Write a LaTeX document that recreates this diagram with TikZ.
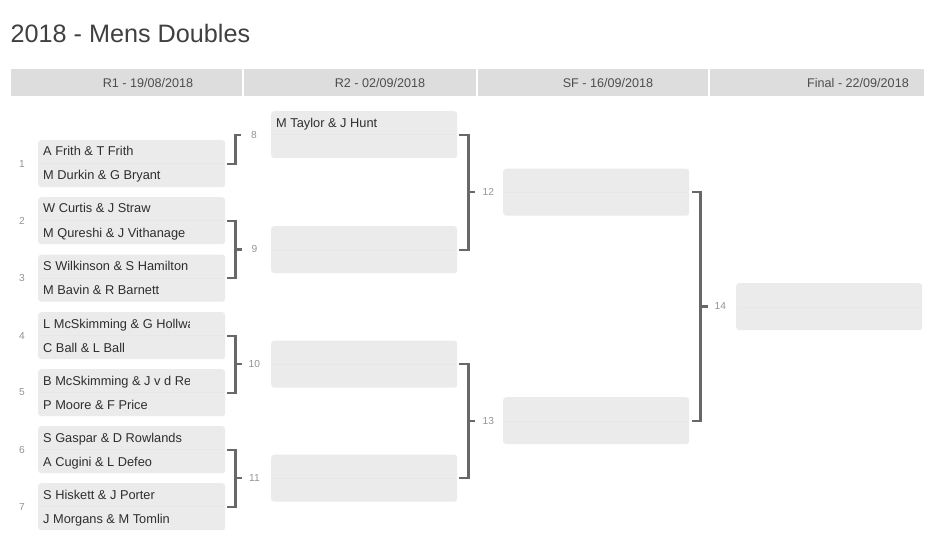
\documentclass[tikz,border=0pt]{standalone}
\usepackage{fontspec}
\setmainfont{Liberation Sans}
\usetikzlibrary{calc}
\definecolor{boxgray}{HTML}{EBEBEB}
\definecolor{rowline}{HTML}{E7E7E7}
\definecolor{hdrgray}{HTML}{DDDDDD}
\definecolor{linegray}{HTML}{686868}
\definecolor{lblgray}{HTML}{959595}
\definecolor{txtgray}{HTML}{2E2E2E}
\definecolor{titlegray}{HTML}{404040}
\begin{document}
\begin{tikzpicture}[x=1pt,y=-1pt,
  matchbox/.style={fill=boxgray, rounded corners=3pt, draw=none, inner sep=0pt, anchor=north west, minimum height=47pt},
  r1box/.style={matchbox, minimum width=187pt},
  r2box/.style={matchbox, minimum width=186pt},
  pname/.style={anchor=base west, inner sep=0pt, text=txtgray, font=\fontsize{12.8}{15}\selectfont},
  hdr/.style={inner sep=0pt, text=txtgray!85, font=\fontsize{12.6}{15}\selectfont},
  num/.style={inner sep=0pt, text=lblgray, font=\fontsize{10.2}{12}\selectfont},
  bracket/.style={draw=linegray, line width=2.2pt},
  blbl/.style={inner sep=0pt, text=lblgray, font=\fontsize{10.2}{12}\selectfont}
]
\useasboundingbox (0,0) rectangle (946,559);
\fill[white] (0,0) rectangle (946,559);

% title
\node[anchor=base west, inner sep=0pt, text=titlegray, font=\fontsize{25.2}{29}\selectfont] (title) at (10.5,43) {2018 - Mens Doubles};

% header bar
\fill[hdrgray] (11,69) rectangle (924,96);
\draw[white, line width=2pt] (242.5,69) -- (242.5,96) (476.5,69) -- (476.5,96) (708.5,69) -- (708.5,96);
\node[hdr] (h1) at (148,82.5) {R1 - 19/08/2018};
\node[hdr] (h2) at (380,82.5) {R2 - 02/09/2018};
\node[hdr] (h3) at (608,82.5) {SF - 16/09/2018};
\node[hdr] (h4) at (858,82.5) {Final - 22/09/2018};

% round 1 boxes
\foreach \i/\t in {1/140,2/197,3/254.5,4/312,5/369,6/426,7/483}{
  \node[r1box] (m\i) at (38,\t) {};
  \draw[rowline, line width=0.4pt] (39,\t+23.5) -- (224,\t+23.5);
  \node[num] (n\i) at (22,\t+23.5) {\i};
}

% round 2 boxes
\node[r2box] (m8) at (271,111) {};
\node[r2box] (m9) at (271,226) {};
\node[r2box] (m10) at (271,340.5) {};
\node[r2box] (m11) at (271,454.5) {};
% semifinals
\node[r2box] (m12) at (503,168.5) {};
\node[r2box] (m13) at (503,397) {};
% final
\node[r2box] (m14) at (736,283) {};
\foreach \b in {8,9,10,11,12,13,14}{
  \draw[rowline, line width=0.4pt] ([xshift=1pt]m\b.west) -- ([xshift=-1pt]m\b.east);
}

% names round 1
\begin{scope}
\clip (38,100) rectangle (189.5,540);
\node[pname] (p1a) at (43,156) {A Frith \& T Frith};
\node[pname] (p1b) at (43,180) {M Durkin \& G Bryant};
\node[pname] (p2a) at (43,213) {W Curtis \& J Straw};
\node[pname] (p2b) at (43,237) {M Qureshi \& J Vithanage};
\node[pname] (p3a) at (43,270.5) {S Wilkinson \& S Hamilton};
\node[pname] (p3b) at (43,294.5) {M Bavin \& R Barnett};
\node[pname] (p4a) at (43,328) {L McSkimming \& G Hollway};
\node[pname] (p4b) at (43,352) {C Ball \& L Ball};
\node[pname] (p5a) at (43,385) {B McSkimming \& J v d Rest};
\node[pname] (p5b) at (43,409) {P Moore \& F Price};
\node[pname] (p6a) at (43,442) {S Gaspar \& D Rowlands};
\node[pname] (p6b) at (43,466) {A Cugini \& L Defeo};
\node[pname] (p7a) at (43,499) {S Hiskett \& J Porter};
\node[pname] (p7b) at (43,523) {J Morgans \& M Tomlin};
\end{scope}
\node[pname] (p8a) at (276,128) {M Taylor \& J Hunt};

% brackets round 1 -> round 2
\draw[bracket] ([xshift=2pt]m1.east) -- ++(8,0) |- ([xshift=-30pt]m8.west)
  node[blbl, xshift=13pt] (l8) {8};
\draw[bracket] ([xshift=2pt]m2.east) -- ++(8,0) |- ([xshift=2pt]m3.east);
\draw[bracket] ($([xshift=10pt]m2.east)!0.5!([xshift=10pt]m3.east)$) -- ++(7,0) node[blbl, xshift=12pt] (l9) {9};
\draw[bracket] ([xshift=2pt]m4.east) -- ++(8,0) |- ([xshift=2pt]m5.east);
\draw[bracket] ($([xshift=10pt]m4.east)!0.5!([xshift=10pt]m5.east)$) -- ++(7,0) node[blbl, xshift=12pt] (l10) {10};
\draw[bracket] ([xshift=2pt]m6.east) -- ++(8,0) |- ([xshift=2pt]m7.east);
\draw[bracket] ($([xshift=10pt]m6.east)!0.5!([xshift=10pt]m7.east)$) -- ++(7,0) node[blbl, xshift=12pt] (l11) {11};

% round 2 -> semis
\draw[bracket] ([xshift=2pt]m8.east) -- ++(9,0) |- ([xshift=2pt]m9.east);
\draw[bracket] ($([xshift=11pt]m8.east)!0.5!([xshift=11pt]m9.east)$) -- ++(7,0) node[blbl, xshift=13pt] (l12) {12};
\draw[bracket] ([xshift=2pt]m10.east) -- ++(9,0) |- ([xshift=2pt]m11.east);
\draw[bracket] ($([xshift=11pt]m10.east)!0.5!([xshift=11pt]m11.east)$) -- ++(7,0) node[blbl, xshift=13pt] (l13) {13};

% semis -> final
\draw[bracket] ([xshift=3pt]m12.east) -- ++(8,0) |- ([xshift=3pt]m13.east);
\draw[bracket] ($([xshift=11pt]m12.east)!0.5!([xshift=11pt]m13.east)$) -- ++(8,0) node[blbl, xshift=12pt] (l14) {14};
\end{tikzpicture}
\end{document}
